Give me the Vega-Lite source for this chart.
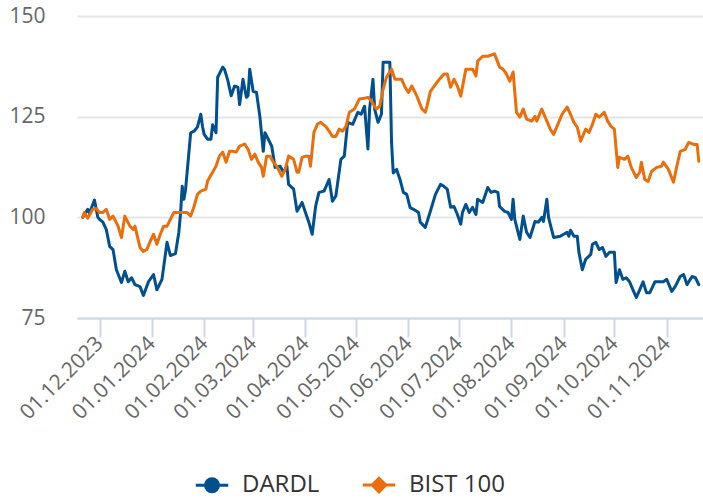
{
"$schema": "https://vega.github.io/schema/vega-lite/v6.json",
"width": 626, "height": 302,
"autosize": "none",
"padding": {"left": 77, "top": 16, "right": 0, "bottom": 181},
"background": "white",
"config": {"view": {"stroke": null}, "font": "Open Sans"},
"data": {"values": [
{"date":"2023-11-21","series":"DARDL","value":100},{"date":"2023-11-24","series":"DARDL","value":102},{"date":"2023-11-25","series":"DARDL","value":101},{"date":"2023-11-28","series":"DARDL","value":104.3},{"date":"2023-11-30","series":"DARDL","value":100},{"date":"2023-12-01","series":"DARDL","value":99.5},{"date":"2023-12-03","series":"DARDL","value":98.8},{"date":"2023-12-05","series":"DARDL","value":97},{"date":"2023-12-07","series":"DARDL","value":92.8},{"date":"2023-12-09","series":"DARDL","value":92},{"date":"2023-12-11","series":"DARDL","value":87},{"date":"2023-12-14","series":"DARDL","value":83.8},{"date":"2023-12-16","series":"DARDL","value":86.6},{"date":"2023-12-18","series":"DARDL","value":84},{"date":"2023-12-20","series":"DARDL","value":85},{"date":"2023-12-22","series":"DARDL","value":83.3},{"date":"2023-12-25","series":"DARDL","value":82.8},{"date":"2023-12-27","series":"DARDL","value":80.6},{"date":"2023-12-30","series":"DARDL","value":84},
{"date":"2024-01-02","series":"DARDL","value":85.8},{"date":"2024-01-04","series":"DARDL","value":82},{"date":"2024-01-07","series":"DARDL","value":84.6},{"date":"2024-01-10","series":"DARDL","value":93.8},{"date":"2024-01-12","series":"DARDL","value":90.5},{"date":"2024-01-15","series":"DARDL","value":91},{"date":"2024-01-17","series":"DARDL","value":96.3},{"date":"2024-01-18","series":"DARDL","value":101},{"date":"2024-01-19","series":"DARDL","value":107.7},{"date":"2024-01-20","series":"DARDL","value":104.5},{"date":"2024-01-21","series":"DARDL","value":107},{"date":"2024-01-24","series":"DARDL","value":121},{"date":"2024-01-26","series":"DARDL","value":121.4},{"date":"2024-01-28","series":"DARDL","value":122.4},{"date":"2024-01-30","series":"DARDL","value":125.6},{"date":"2024-01-31","series":"DARDL","value":122.6},
{"date":"2024-02-01","series":"DARDL","value":120.6},{"date":"2024-02-03","series":"DARDL","value":119.4},{"date":"2024-02-05","series":"DARDL","value":119.4},{"date":"2024-02-06","series":"DARDL","value":123},{"date":"2024-02-08","series":"DARDL","value":121},{"date":"2024-02-09","series":"DARDL","value":134.8},{"date":"2024-02-12","series":"DARDL","value":137.3},{"date":"2024-02-13","series":"DARDL","value":136.8},{"date":"2024-02-15","series":"DARDL","value":134},{"date":"2024-02-17","series":"DARDL","value":130.2},{"date":"2024-02-19","series":"DARDL","value":132.6},{"date":"2024-02-21","series":"DARDL","value":132.3},{"date":"2024-02-22","series":"DARDL","value":128},{"date":"2024-02-24","series":"DARDL","value":134.3},{"date":"2024-02-26","series":"DARDL","value":129.8},{"date":"2024-02-27","series":"DARDL","value":130.2},{"date":"2024-02-28","series":"DARDL","value":136.8},
{"date":"2024-03-01","series":"DARDL","value":131.3},{"date":"2024-03-03","series":"DARDL","value":131},{"date":"2024-03-05","series":"DARDL","value":125},{"date":"2024-03-07","series":"DARDL","value":116.4},{"date":"2024-03-08","series":"DARDL","value":121},{"date":"2024-03-10","series":"DARDL","value":119.4},{"date":"2024-03-12","series":"DARDL","value":117.7},{"date":"2024-03-14","series":"DARDL","value":112.4},{"date":"2024-03-17","series":"DARDL","value":112.7},{"date":"2024-03-19","series":"DARDL","value":111.2},{"date":"2024-03-21","series":"DARDL","value":112.7},{"date":"2024-03-22","series":"DARDL","value":108.2},{"date":"2024-03-25","series":"DARDL","value":107},{"date":"2024-03-27","series":"DARDL","value":101.5},{"date":"2024-03-30","series":"DARDL","value":103.7},
{"date":"2024-04-01","series":"DARDL","value":101.2},{"date":"2024-04-03","series":"DARDL","value":98.8},{"date":"2024-04-05","series":"DARDL","value":95.8},{"date":"2024-04-07","series":"DARDL","value":102.7},{"date":"2024-04-09","series":"DARDL","value":106.2},{"date":"2024-04-12","series":"DARDL","value":106.5},{"date":"2024-04-15","series":"DARDL","value":109.4},{"date":"2024-04-17","series":"DARDL","value":104},{"date":"2024-04-19","series":"DARDL","value":105.3},{"date":"2024-04-22","series":"DARDL","value":114.4},{"date":"2024-04-24","series":"DARDL","value":115.2},{"date":"2024-04-26","series":"DARDL","value":123.6},{"date":"2024-04-29","series":"DARDL","value":123.1},
{"date":"2024-05-02","series":"DARDL","value":126.1},{"date":"2024-05-04","series":"DARDL","value":125.6},{"date":"2024-05-06","series":"DARDL","value":127.6},{"date":"2024-05-08","series":"DARDL","value":117},{"date":"2024-05-09","series":"DARDL","value":126.9},{"date":"2024-05-11","series":"DARDL","value":134.3},{"date":"2024-05-12","series":"DARDL","value":126.9},{"date":"2024-05-14","series":"DARDL","value":123.6},{"date":"2024-05-16","series":"DARDL","value":125.6},{"date":"2024-05-17","series":"DARDL","value":138.5},{"date":"2024-05-20","series":"DARDL","value":138.5},{"date":"2024-05-21","series":"DARDL","value":138.5},{"date":"2024-05-22","series":"DARDL","value":118.6},{"date":"2024-05-23","series":"DARDL","value":111},{"date":"2024-05-25","series":"DARDL","value":111.9},{"date":"2024-05-27","series":"DARDL","value":109.4},{"date":"2024-05-29","series":"DARDL","value":106.2},{"date":"2024-05-31","series":"DARDL","value":105.7},
{"date":"2024-06-02","series":"DARDL","value":102.4},{"date":"2024-06-04","series":"DARDL","value":102},{"date":"2024-06-07","series":"DARDL","value":101.2},{"date":"2024-06-08","series":"DARDL","value":98.8},{"date":"2024-06-11","series":"DARDL","value":97.5},{"date":"2024-06-14","series":"DARDL","value":101.5},{"date":"2024-06-17","series":"DARDL","value":105.7},{"date":"2024-06-20","series":"DARDL","value":108.2},{"date":"2024-06-22","series":"DARDL","value":107.7},{"date":"2024-06-24","series":"DARDL","value":107},{"date":"2024-06-26","series":"DARDL","value":102.5},{"date":"2024-06-28","series":"DARDL","value":102.7},{"date":"2024-06-30","series":"DARDL","value":100.7},
{"date":"2024-07-02","series":"DARDL","value":98.3},{"date":"2024-07-03","series":"DARDL","value":101.2},{"date":"2024-07-05","series":"DARDL","value":103.2},{"date":"2024-07-07","series":"DARDL","value":101.2},{"date":"2024-07-09","series":"DARDL","value":102.5},{"date":"2024-07-11","series":"DARDL","value":100.7},{"date":"2024-07-12","series":"DARDL","value":104.5},{"date":"2024-07-15","series":"DARDL","value":103.7},{"date":"2024-07-18","series":"DARDL","value":107.4},{"date":"2024-07-20","series":"DARDL","value":106.2},{"date":"2024-07-22","series":"DARDL","value":106.5},{"date":"2024-07-24","series":"DARDL","value":106.2},{"date":"2024-07-25","series":"DARDL","value":102.7},{"date":"2024-07-28","series":"DARDL","value":101.5},{"date":"2024-07-30","series":"DARDL","value":101.2},
{"date":"2024-08-01","series":"DARDL","value":99.5},{"date":"2024-08-02","series":"DARDL","value":104.5},{"date":"2024-08-03","series":"DARDL","value":99.5},{"date":"2024-08-06","series":"DARDL","value":94.5},{"date":"2024-08-08","series":"DARDL","value":100.3},{"date":"2024-08-10","series":"DARDL","value":96.3},{"date":"2024-08-12","series":"DARDL","value":95},{"date":"2024-08-15","series":"DARDL","value":99},{"date":"2024-08-17","series":"DARDL","value":98.8},{"date":"2024-08-19","series":"DARDL","value":100},{"date":"2024-08-20","series":"DARDL","value":99},{"date":"2024-08-22","series":"DARDL","value":104.5},{"date":"2024-08-23","series":"DARDL","value":100},{"date":"2024-08-26","series":"DARDL","value":95},{"date":"2024-08-30","series":"DARDL","value":95.3},
{"date":"2024-09-03","series":"DARDL","value":96.3},{"date":"2024-09-04","series":"DARDL","value":95.3},{"date":"2024-09-05","series":"DARDL","value":96.8},{"date":"2024-09-07","series":"DARDL","value":95.3},{"date":"2024-09-09","series":"DARDL","value":95.3},{"date":"2024-09-10","series":"DARDL","value":91.3},{"date":"2024-09-12","series":"DARDL","value":87},{"date":"2024-09-14","series":"DARDL","value":89.6},{"date":"2024-09-17","series":"DARDL","value":90.8},{"date":"2024-09-18","series":"DARDL","value":93.3},{"date":"2024-09-20","series":"DARDL","value":93.8},{"date":"2024-09-22","series":"DARDL","value":92},{"date":"2024-09-24","series":"DARDL","value":92.5},{"date":"2024-09-26","series":"DARDL","value":90.3},{"date":"2024-09-28","series":"DARDL","value":91.3},
{"date":"2024-10-01","series":"DARDL","value":91.3},{"date":"2024-10-02","series":"DARDL","value":83.8},{"date":"2024-10-04","series":"DARDL","value":87},{"date":"2024-10-06","series":"DARDL","value":84.6},{"date":"2024-10-08","series":"DARDL","value":85},{"date":"2024-10-10","series":"DARDL","value":84},{"date":"2024-10-12","series":"DARDL","value":82},{"date":"2024-10-14","series":"DARDL","value":80.1},{"date":"2024-10-16","series":"DARDL","value":82},{"date":"2024-10-18","series":"DARDL","value":84},{"date":"2024-10-20","series":"DARDL","value":81.3},{"date":"2024-10-22","series":"DARDL","value":81.3},{"date":"2024-10-25","series":"DARDL","value":84},{"date":"2024-10-28","series":"DARDL","value":84},{"date":"2024-10-30","series":"DARDL","value":84},
{"date":"2024-11-01","series":"DARDL","value":84.6},{"date":"2024-11-04","series":"DARDL","value":81.6},{"date":"2024-11-06","series":"DARDL","value":82.8},{"date":"2024-11-09","series":"DARDL","value":85.3},{"date":"2024-11-11","series":"DARDL","value":85.8},{"date":"2024-11-13","series":"DARDL","value":83.3},{"date":"2024-11-16","series":"DARDL","value":85.3},{"date":"2024-11-18","series":"DARDL","value":85},{"date":"2024-11-20","series":"DARDL","value":83.3},
{"date":"2023-11-21","series":"BIST 100","value":100},{"date":"2023-11-22","series":"BIST 100","value":101.2},{"date":"2023-11-24","series":"BIST 100","value":99.8},{"date":"2023-11-27","series":"BIST 100","value":102},{"date":"2023-11-29","series":"BIST 100","value":102.2},{"date":"2023-12-01","series":"BIST 100","value":101.2},{"date":"2023-12-03","series":"BIST 100","value":101.2},{"date":"2023-12-05","series":"BIST 100","value":102},{"date":"2023-12-07","series":"BIST 100","value":99.5},{"date":"2023-12-09","series":"BIST 100","value":100.3},{"date":"2023-12-12","series":"BIST 100","value":97.8},{"date":"2023-12-14","series":"BIST 100","value":95},{"date":"2023-12-16","series":"BIST 100","value":100.3},{"date":"2023-12-19","series":"BIST 100","value":97.8},{"date":"2023-12-21","series":"BIST 100","value":97},{"date":"2023-12-22","series":"BIST 100","value":97.8},{"date":"2023-12-25","series":"BIST 100","value":92.5},{"date":"2023-12-27","series":"BIST 100","value":91.5},{"date":"2023-12-29","series":"BIST 100","value":92},{"date":"2023-12-31","series":"BIST 100","value":94},
{"date":"2024-01-02","series":"BIST 100","value":95.8},{"date":"2024-01-04","series":"BIST 100","value":93.3},{"date":"2024-01-06","series":"BIST 100","value":95.8},{"date":"2024-01-08","series":"BIST 100","value":97.8},{"date":"2024-01-10","series":"BIST 100","value":97.8},{"date":"2024-01-12","series":"BIST 100","value":99.5},{"date":"2024-01-14","series":"BIST 100","value":101.2},{"date":"2024-01-18","series":"BIST 100","value":101.2},{"date":"2024-01-22","series":"BIST 100","value":101.2},{"date":"2024-01-24","series":"BIST 100","value":100.3},{"date":"2024-01-26","series":"BIST 100","value":102.7},{"date":"2024-01-28","series":"BIST 100","value":105.7},{"date":"2024-01-30","series":"BIST 100","value":106.5},
{"date":"2024-02-02","series":"BIST 100","value":107},{"date":"2024-02-03","series":"BIST 100","value":109},{"date":"2024-02-06","series":"BIST 100","value":111.2},{"date":"2024-02-08","series":"BIST 100","value":112.7},{"date":"2024-02-10","series":"BIST 100","value":115.2},{"date":"2024-02-12","series":"BIST 100","value":116.2},{"date":"2024-02-14","series":"BIST 100","value":113.7},{"date":"2024-02-16","series":"BIST 100","value":116.4},{"date":"2024-02-18","series":"BIST 100","value":116.4},{"date":"2024-02-20","series":"BIST 100","value":116.2},{"date":"2024-02-22","series":"BIST 100","value":117.7},{"date":"2024-02-25","series":"BIST 100","value":118.2},{"date":"2024-02-27","series":"BIST 100","value":116.9},{"date":"2024-02-29","series":"BIST 100","value":114.4},
{"date":"2024-03-02","series":"BIST 100","value":115.7},{"date":"2024-03-04","series":"BIST 100","value":113.7},{"date":"2024-03-06","series":"BIST 100","value":112.4},{"date":"2024-03-07","series":"BIST 100","value":110.2},{"date":"2024-03-09","series":"BIST 100","value":115.2},{"date":"2024-03-11","series":"BIST 100","value":115.2},{"date":"2024-03-13","series":"BIST 100","value":113.7},{"date":"2024-03-15","series":"BIST 100","value":112.7},{"date":"2024-03-18","series":"BIST 100","value":110.2},{"date":"2024-03-20","series":"BIST 100","value":111.9},{"date":"2024-03-22","series":"BIST 100","value":115.2},{"date":"2024-03-25","series":"BIST 100","value":114.4},{"date":"2024-03-27","series":"BIST 100","value":111.2},{"date":"2024-03-28","series":"BIST 100","value":111.2},{"date":"2024-03-30","series":"BIST 100","value":114.9},
{"date":"2024-04-01","series":"BIST 100","value":115.2},{"date":"2024-04-03","series":"BIST 100","value":115.2},{"date":"2024-04-04","series":"BIST 100","value":112.7},{"date":"2024-04-06","series":"BIST 100","value":121.1},{"date":"2024-04-08","series":"BIST 100","value":123.1},{"date":"2024-04-10","series":"BIST 100","value":123.6},{"date":"2024-04-13","series":"BIST 100","value":122.6},{"date":"2024-04-15","series":"BIST 100","value":121.4},{"date":"2024-04-17","series":"BIST 100","value":120.1},{"date":"2024-04-19","series":"BIST 100","value":120.1},{"date":"2024-04-21","series":"BIST 100","value":121.9},{"date":"2024-04-23","series":"BIST 100","value":121.4},{"date":"2024-04-25","series":"BIST 100","value":122.6},{"date":"2024-04-27","series":"BIST 100","value":126.1},{"date":"2024-04-30","series":"BIST 100","value":126.9},
{"date":"2024-05-03","series":"BIST 100","value":129.4},{"date":"2024-05-06","series":"BIST 100","value":129.6},{"date":"2024-05-08","series":"BIST 100","value":129.8},{"date":"2024-05-10","series":"BIST 100","value":128.9},{"date":"2024-05-13","series":"BIST 100","value":126.9},{"date":"2024-05-15","series":"BIST 100","value":127.6},{"date":"2024-05-17","series":"BIST 100","value":131.8},{"date":"2024-05-19","series":"BIST 100","value":134.8},{"date":"2024-05-22","series":"BIST 100","value":136.8},{"date":"2024-05-24","series":"BIST 100","value":134.3},{"date":"2024-05-27","series":"BIST 100","value":134.3},{"date":"2024-05-28","series":"BIST 100","value":134.3},{"date":"2024-05-30","series":"BIST 100","value":132.3},
{"date":"2024-06-01","series":"BIST 100","value":131},{"date":"2024-06-03","series":"BIST 100","value":132.6},{"date":"2024-06-04","series":"BIST 100","value":131.8},{"date":"2024-06-06","series":"BIST 100","value":130.1},{"date":"2024-06-09","series":"BIST 100","value":126.9},{"date":"2024-06-11","series":"BIST 100","value":126.1},{"date":"2024-06-12","series":"BIST 100","value":127.6},{"date":"2024-06-14","series":"BIST 100","value":131.3},{"date":"2024-06-18","series":"BIST 100","value":133.6},{"date":"2024-06-22","series":"BIST 100","value":135.6},{"date":"2024-06-24","series":"BIST 100","value":135.6},{"date":"2024-06-26","series":"BIST 100","value":132.3},{"date":"2024-06-28","series":"BIST 100","value":134.3},{"date":"2024-06-30","series":"BIST 100","value":132.6},
{"date":"2024-07-02","series":"BIST 100","value":130.1},{"date":"2024-07-05","series":"BIST 100","value":136.8},{"date":"2024-07-08","series":"BIST 100","value":136.8},{"date":"2024-07-09","series":"BIST 100","value":136.8},{"date":"2024-07-11","series":"BIST 100","value":135.1},{"date":"2024-07-12","series":"BIST 100","value":138.8},{"date":"2024-07-15","series":"BIST 100","value":140},{"date":"2024-07-18","series":"BIST 100","value":140},{"date":"2024-07-22","series":"BIST 100","value":140.6},{"date":"2024-07-25","series":"BIST 100","value":137.3},{"date":"2024-07-27","series":"BIST 100","value":136.8},{"date":"2024-07-29","series":"BIST 100","value":135.6},{"date":"2024-07-31","series":"BIST 100","value":133.8},
{"date":"2024-08-02","series":"BIST 100","value":136.1},{"date":"2024-08-04","series":"BIST 100","value":126.1},{"date":"2024-08-06","series":"BIST 100","value":124.9},{"date":"2024-08-08","series":"BIST 100","value":126.9},{"date":"2024-08-10","series":"BIST 100","value":124.4},{"date":"2024-08-13","series":"BIST 100","value":123.9},{"date":"2024-08-15","series":"BIST 100","value":125.1},{"date":"2024-08-16","series":"BIST 100","value":123.9},{"date":"2024-08-19","series":"BIST 100","value":126.9},{"date":"2024-08-21","series":"BIST 100","value":124.9},{"date":"2024-08-24","series":"BIST 100","value":121.9},{"date":"2024-08-26","series":"BIST 100","value":120.6},{"date":"2024-08-28","series":"BIST 100","value":122.6},{"date":"2024-08-31","series":"BIST 100","value":125.6},
{"date":"2024-09-03","series":"BIST 100","value":127.4},{"date":"2024-09-05","series":"BIST 100","value":125.6},{"date":"2024-09-07","series":"BIST 100","value":123.6},{"date":"2024-09-09","series":"BIST 100","value":122.4},{"date":"2024-09-11","series":"BIST 100","value":118.9},{"date":"2024-09-14","series":"BIST 100","value":121.9},{"date":"2024-09-16","series":"BIST 100","value":121.1},{"date":"2024-09-18","series":"BIST 100","value":123.1},{"date":"2024-09-20","series":"BIST 100","value":125.6},{"date":"2024-09-22","series":"BIST 100","value":124.9},{"date":"2024-09-25","series":"BIST 100","value":126.1},{"date":"2024-09-27","series":"BIST 100","value":123.9},{"date":"2024-09-29","series":"BIST 100","value":122.6},
{"date":"2024-10-01","series":"BIST 100","value":121.9},{"date":"2024-10-03","series":"BIST 100","value":112.4},{"date":"2024-10-04","series":"BIST 100","value":114.9},{"date":"2024-10-07","series":"BIST 100","value":114.4},{"date":"2024-10-09","series":"BIST 100","value":115.2},{"date":"2024-10-11","series":"BIST 100","value":112.4},{"date":"2024-10-14","series":"BIST 100","value":109.9},{"date":"2024-10-16","series":"BIST 100","value":111.2},{"date":"2024-10-17","series":"BIST 100","value":113.7},{"date":"2024-10-19","series":"BIST 100","value":109.4},{"date":"2024-10-21","series":"BIST 100","value":108.9},{"date":"2024-10-23","series":"BIST 100","value":111.4},{"date":"2024-10-26","series":"BIST 100","value":112.4},{"date":"2024-10-29","series":"BIST 100","value":112.7},{"date":"2024-10-30","series":"BIST 100","value":113.7},
{"date":"2024-11-02","series":"BIST 100","value":111.9},{"date":"2024-11-05","series":"BIST 100","value":108.7},{"date":"2024-11-07","series":"BIST 100","value":112.7},{"date":"2024-11-09","series":"BIST 100","value":116.4},{"date":"2024-11-12","series":"BIST 100","value":116.9},{"date":"2024-11-14","series":"BIST 100","value":118.6},{"date":"2024-11-17","series":"BIST 100","value":118.1},{"date":"2024-11-19","series":"BIST 100","value":118.1},{"date":"2024-11-20","series":"BIST 100","value":113.9}
]},
"mark": {"type": "line", "strokeWidth": 3, "strokeJoin": "round", "strokeCap": "round"},
"encoding": {
"x": {"field": "date", "type": "temporal",
"scale": {"type": "utc", "domain": [{"year": 2023, "month": 11, "date": 17, "hours": 16, "utc": true}, {"year": 2024, "month": 11, "date": 22, "hours": 12, "utc": true}]},
"axis": {"title": null, "format": "%d.%m.%Y", "tickCount": {"interval": "month", "step": 1}, "grid": false,
"domainColor": "#ccd6eb", "domainWidth": 2, "tickColor": "#ccd6eb", "tickWidth": 2, "tickSize": 19,
"labelAngle": -45, "labelAlign": "right", "labelBaseline": "middle", "labelFontSize": 21, "labelColor": "#666666", "labelPadding": 3, "labelOverlap": false, "labelFlush": false, "labelLimit": 300}},
"y": {"field": "value", "type": "quantitative",
"scale": {"domain": [75, 150], "nice": false, "zero": false},
"axis": {"title": null, "values": [75, 100, 125, 150], "domain": false, "ticks": false, "gridColor": "#e6e6e6", "gridWidth": 2,
"labelFontSize": 21, "labelColor": "#666666", "labelPadding": 32}},
"color": {"field": "series", "type": "nominal",
"scale": {"domain": ["DARDL", "BIST 100"], "range": ["#00508f", "#ea6e0b"]},
"legend": {"title": null, "orient": "none", "direction": "horizontal", "legendX": 122, "legendY": 456,
"labelFontSize": 24, "labelColor": "#333333", "labelOffset": 17, "columnPadding": 36, "labelLimit": 300,
"symbolSize": 500, "symbolStrokeWidth": 3,
"encode": {"symbols": {"update": {
"shape": {"signal": "datum.value === 'DARDL' ? 'M-1.45,0L1.45,0M-0.58,0A0.58,0.58 0 1,1 0.58,0A0.58,0.58 0 1,1 -0.58,0Z' : 'M-1.45,0L1.45,0M0,-0.61L0.61,0L0,0.61L-0.61,0Z'"},
"fill": {"scale": "color", "field": "value"},
"fillOpacity": {"value": 1},
"strokeOpacity": {"value": 1}
}}}}}
}
}
